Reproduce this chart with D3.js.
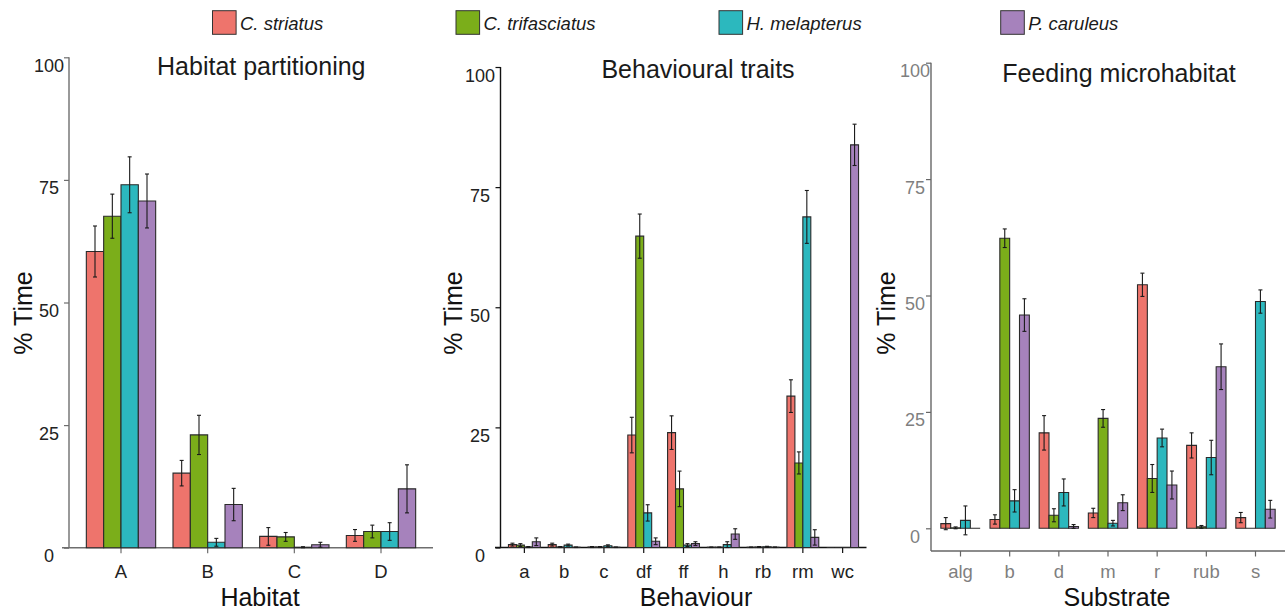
<!DOCTYPE html>
<html>
<head>
<meta charset="utf-8">
<script src="https://cdnjs.cloudflare.com/ajax/libs/d3/7.8.5/d3.min.js"></script>
<style>
  html, body { margin: 0; padding: 0; background: #fff; }
  svg { display: block; font-family: "Liberation Sans", Arial, Helvetica, sans-serif; }
</style>
</head>
<body>
<svg id="chart" width="1285" height="612"></svg>
<script>
// ---------------- DATA ----------------
const species = ["C. striatus", "C. trifasciatus", "H. melapterus", "P. caruleus"];
const yTicks = [0, 25, 50, 75, 100];

const habitatCats = ["A", "B", "C", "D"];
const habitatMeans = [
  [60.4, 15.2, 2.3, 2.5],
  [67.6, 23.0, 2.2, 3.3],
  [74.0, 1.1, 0.1, 3.3],
  [70.7, 8.8, 0.6, 12.0]
];
const habitatSE = [
  [5.2, 2.6, 1.8, 1.2],
  [4.5, 4.0, 0.9, 1.3],
  [5.7, 0.8, 0.1, 1.8],
  [5.5, 3.3, 0.5, 4.9]
];

const behaviourCats = ["a", "b", "c", "df", "ff", "h", "rb", "rm", "wc"];
const behaviourMeans = [
  [0.6, 0.6, 0.1, 23.4, 23.9, 0.05, 0.05, 31.5, 0],
  [0.5, 0.1, 0.1, 64.8, 12.2, 0.05, 0.1, 17.6, 0],
  [0.1, 0.5, 0.35, 7.2, 0.5, 0.6, 0.15, 68.8, 0],
  [1.2, 0.05, 0.05, 1.3, 0.8, 2.8, 0.05, 2.1, 83.8]
];
const behaviourSE = [
  [0.3, 0.3, 0.1, 3.7, 3.5, 0.05, 0.05, 3.4, 0],
  [0.3, 0.1, 0.1, 4.6, 3.7, 0.05, 0.1, 2.3, 0],
  [0.1, 0.2, 0.2, 1.7, 0.3, 0.6, 0.1, 5.5, 0],
  [0.8, 0.05, 0.05, 0.7, 0.4, 1.1, 0.05, 1.6, 4.3]
];

const substrateCats = ["alg", "b", "d", "m", "r", "rub", "s"];
const substrateMeans = [
  [1.0, 1.9, 20.5, 3.3, 52.3, 17.8, 2.3],
  [0.1, 62.3, 2.8, 23.6, 10.7, 0.3, 0],
  [1.7, 5.9, 7.7, 1.1, 19.4, 15.2, 48.7],
  [0, 45.8, 0.4, 5.5, 9.3, 34.7, 4.1]
];
const substrateSE = [
  [1.3, 1.0, 3.7, 1.0, 2.5, 2.7, 1.1],
  [0.2, 2.0, 1.4, 1.9, 3.0, 0.3, 0],
  [3.1, 2.4, 2.9, 0.6, 1.9, 3.7, 2.5],
  [0, 3.5, 0.4, 1.7, 3.0, 4.9, 1.9]
];

// ---------------- STYLE ----------------
const colors = ["#EE746C", "#7BAE1A", "#2CB8BE", "#A682BC"];
const svg = d3.select("#chart");
svg.append("rect").attr("width", 1285).attr("height", 612).attr("fill", "#fff");

const color = d3.scaleOrdinal().domain(species).range(colors);

// ---------------- LEGEND ----------------
const legendX = [212.5, 456, 719, 1000.7];
const legend = svg.append("g");
species.forEach((s, i) => {
  legend.append("rect")
    .attr("x", legendX[i]).attr("y", 10.7)
    .attr("width", 23.6).attr("height", 23.6)
    .attr("fill", color(s)).attr("stroke", "#333").attr("stroke-width", 1);
  legend.append("text")
    .attr("x", legendX[i] + 27.5).attr("y", 29.5)
    .attr("font-size", 18.5).attr("font-style", "italic").attr("fill", "#1a1a1a")
    .text(s);
});

// ---------------- PANELS ----------------
function drawPanel(p) {
  const g = svg.append("g");
  const x = d3.scaleBand().domain(p.cats).range([p.left, p.right]).paddingInner(0).paddingOuter(0.1);
  const xs = d3.scaleBand().domain(species).range([0, x.bandwidth() * 0.8]);
  const y = d3.scaleLinear().domain([0, 100]).range([p.y0, p.y100]);
  const off = x.bandwidth() * 0.1;

  // y axis
  const yAxis = d3.axisLeft(y).tickValues(yTicks).tickSize(5).tickFormat("");
  const ya = g.append("g").attr("transform", `translate(${p.left},0)`).call(yAxis);
  ya.select(".domain").remove();
  ya.selectAll(".tick line").attr("stroke", p.axisColor).attr("stroke-width", 1.2);
  g.append("line").attr("x1", p.left).attr("x2", p.left)
    .attr("y1", y(100)).attr("y2", p.axisBottom)
    .attr("stroke", p.axisColor).attr("stroke-width", 1.4);
  g.selectAll(".ylab").data(yTicks).enter().append("text")
    .attr("x", p.labelX).attr("y", d => y(d) + 14.5)
    .attr("text-anchor", "middle").attr("font-size", 18)
    .attr("fill", p.labelColor).text(d => d);

  // x axis
  const xAxis = d3.axisBottom(x).tickSize(5.5).tickFormat("");
  const xa = g.append("g").attr("transform", `translate(0,${p.axisBottom})`).call(xAxis);
  xa.select(".domain").remove();
  xa.selectAll(".tick line").attr("stroke", p.axisColor).attr("stroke-width", 1.2);
  g.append("line").attr("x1", p.baseLeft).attr("x2", p.right)
    .attr("y1", p.axisBottom).attr("y2", p.axisBottom)
    .attr("stroke", p.axisColor).attr("stroke-width", 1.4);
  g.selectAll(".xlab").data(p.cats).enter().append("text")
    .attr("x", d => x(d) + x.bandwidth() / 2).attr("y", 577.5)
    .attr("text-anchor", "middle").attr("font-size", 18.5)
    .attr("fill", p.labelColor).text(d => d);

  // bars
  const rows = [];
  species.forEach((s, si) => {
    p.cats.forEach((c, ci) => {
      rows.push({ s, c, v: p.means[si][ci], e: p.se[si][ci] });
    });
  });
  g.selectAll(".bar").data(rows).enter().append("path")
    .attr("d", d => {
      const x0 = x(d.c) + off + xs(d.s), x1 = x0 + xs.bandwidth();
      const yb = y(0), yt = y(d.v);
      return `M${x0},${yb}V${yt}H${x1}V${yb}Z`;
    })
    .attr("fill", d => color(d.s)).attr("stroke", "#2a2a2a").attr("stroke-width", 1.1);

  // error bars
  const eb = rows.filter(d => d.e > 0);
  const cx = d => x(d.c) + off + xs(d.s) + xs.bandwidth() / 2;
  const errG = g.append("g").attr("stroke", "#1a1a1a").attr("stroke-width", 1.1);
  eb.forEach(d => {
    const c = cx(d), yt = y(d.v + d.e), ybm = y(d.v - d.e);
    errG.append("line").attr("x1", c).attr("x2", c).attr("y1", yt).attr("y2", ybm);
    errG.append("line").attr("x1", c - 2).attr("x2", c + 2).attr("y1", yt).attr("y2", yt);
    errG.append("line").attr("x1", c - 2).attr("x2", c + 2).attr("y1", ybm).attr("y2", ybm);
  });

  // titles
  g.append("text").attr("x", p.titleX).attr("y", p.titleY)
    .attr("text-anchor", "middle").attr("font-size", 25).attr("fill", "#1a1a1a").text(p.title);
  g.append("text").attr("x", p.xTitleX).attr("y", 606)
    .attr("text-anchor", "middle").attr("font-size", 25).attr("fill", "#111").text(p.xTitle);
  g.append("text")
    .attr("transform", `translate(${p.yTitleX},313) rotate(-90)`)
    .attr("text-anchor", "middle").attr("dominant-baseline", "central")
    .attr("font-size", 25).attr("fill", "#111").text("% Time");
}

drawPanel({
  cats: habitatCats, means: habitatMeans, se: habitatSE,
  left: 69, right: 433, y0: 547.7, y100: 57.3, axisBottom: 547.7, baseLeft: 62,
  axisColor: "#6e6e6e", labelColor: "#222", labelX: 49,
  title: "Habitat partitioning", titleX: 261.3, titleY: 75,
  xTitle: "Habitat", xTitleX: 260, yTitleX: 23
});

drawPanel({
  cats: behaviourCats, means: behaviourMeans, se: behaviourSE,
  left: 500.5, right: 866.5, y0: 547.5, y100: 67, axisBottom: 547.5, baseLeft: 495,
  axisColor: "#111", labelColor: "#222", labelX: 480,
  title: "Behavioural traits", titleX: 698, titleY: 78,
  xTitle: "Behaviour", xTitleX: 696, yTitleX: 453
});

drawPanel({
  cats: substrateCats, means: substrateMeans, se: substrateSE,
  left: 931, right: 1285, y0: 528.3, y100: 62.7, axisBottom: 551, baseLeft: 931,
  axisColor: "#666", labelColor: "#7f7f7f", labelX: 915,
  title: "Feeding microhabitat", titleX: 1119, titleY: 81.7,
  xTitle: "Substrate", xTitleX: 1117, yTitleX: 886
});
</script>
</body>
</html>
